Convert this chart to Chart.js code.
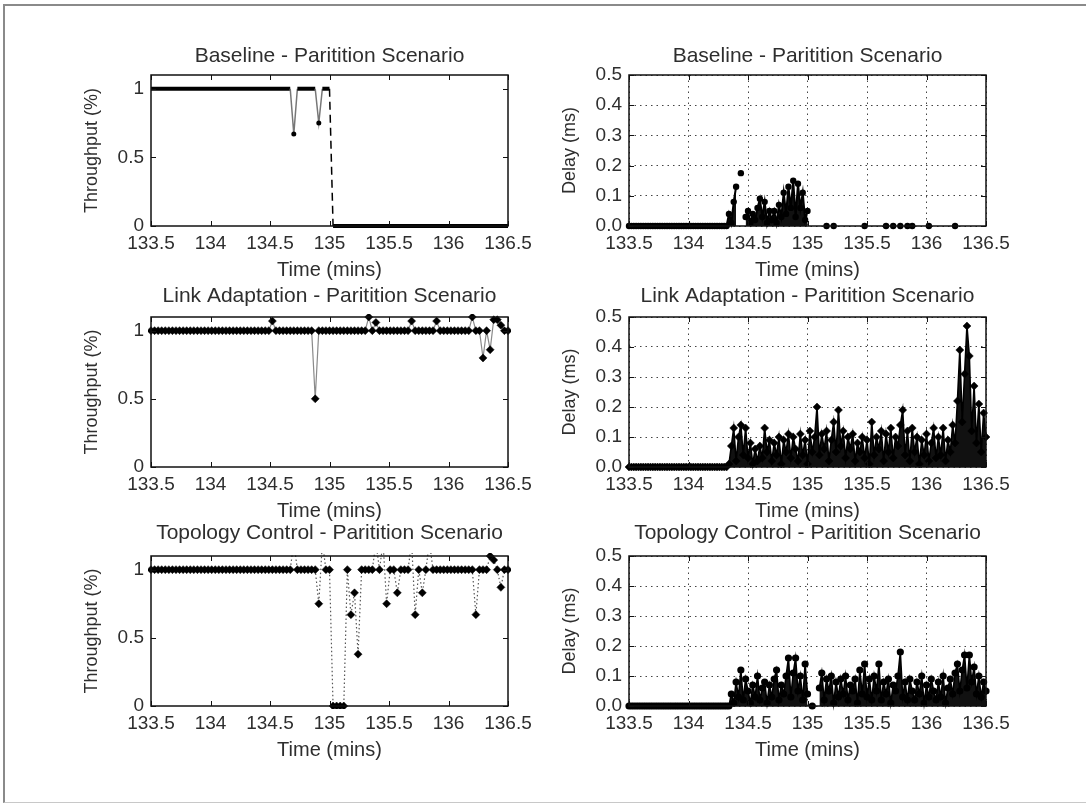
<!DOCTYPE html>
<html>
<head>
<meta charset="utf-8">
<script src="https://cdn.jsdelivr.net/npm/chart.js@4.4.1/dist/chart.umd.min.js"></script>
<style>
  body { margin: 0; background: #fff; width: 1086px; height: 804px; overflow: hidden; position: relative; }
  #frame { position: absolute; left: 3px; top: 4px; width: 1095px; height: 796px;
           border-top: 2px solid #8a8a8a; border-left: 2px solid #8a8a8a; border-bottom: 1px solid #c8c8c8; }
  .panel { position: absolute; width: 497px; }
</style>
</head>
<body>
<div id="frame"></div>
<div class="panel" style="left:41px;top:44px;height:238px"><canvas id="tputBase"></canvas></div>
<div class="panel" style="left:519px;top:44px;height:238px"><canvas id="delayBase"></canvas></div>
<div class="panel" style="left:41px;top:284px;height:239px"><canvas id="tputLinkC"></canvas></div>
<div class="panel" style="left:519px;top:284px;height:239px"><canvas id="delayLinkC"></canvas></div>
<div class="panel" style="left:41px;top:521px;height:241px"><canvas id="tputTopoC"></canvas></div>
<div class="panel" style="left:519px;top:521px;height:241px"><canvas id="delayTopoC"></canvas></div>
<script>
// x axis ticks shared by all six panels
const timeTicks = [133.5, 134, 134.5, 135, 135.5, 136, 136.5];
const timeTickLabels = ['133.5', '134', '134.5', '135', '135.5', '136', '136.5'];
const tputTicks = [0, 0.5, 1];
const tputTickLabels = ['0', '0.5', '1'];
const delayTicks = [0, 0.1, 0.2, 0.3, 0.4, 0.5];
const delayTickLabels = ['0.0', '0.1', '0.2', '0.3', '0.4', '0.5'];

const titles = ['Baseline - Paritition Scenario', 'Link Adaptation - Paritition Scenario', 'Topology Control - Paritition Scenario'];

// throughput samples (mins)
const tputTime = [
  133.50,133.53,133.56,133.59,133.62,133.65,133.68,133.71,133.74,133.77,
  133.80,133.83,133.86,133.89,133.92,133.95,133.98,134.01,134.04,134.07,
  134.10,134.13,134.16,134.19,134.22,134.25,134.28,134.31,134.34,134.37,
  134.40,134.43,134.46,134.49,134.52,134.55,134.58,134.61,134.64,134.67,
  134.70,134.73,134.76,134.79,134.82,134.85,134.88,134.91,134.94,134.97,
  135.00,135.03,135.06,135.09,135.12,135.15,135.18,135.21,135.24,135.27,
  135.30,135.33,135.36,135.39,135.42,135.45,135.48,135.51,135.54,135.57,
  135.60,135.63,135.66,135.69,135.72,135.75,135.78,135.81,135.84,135.87,
  135.90,135.93,135.96,135.99,136.02,136.05,136.08,136.11,136.14,136.17,
  136.20,136.23,136.26,136.29,136.32,136.35,136.38,136.41,136.44,136.47,
  136.50
];
const tputBaseline = [
  1,1,1,1,1,1,1,1,1,1,
  1,1,1,1,1,1,1,1,1,1,
  1,1,1,1,1,1,1,1,1,1,
  1,1,1,1,1,1,1,1,1,1,
  0.67,1,1,1,1,1,1,0.75,1,1,
  1,0,0,0,0,0,0,0,0,0,
  0,0,0,0,0,0,0,0,0,0,
  0,0,0,0,0,0,0,0,0,0,
  0,0,0,0,0,0,0,0,0,0,
  0,0,0,0,0,0,0,0,0,0,
  0
];
const tputLink = [
  1,1,1,1,1,1,1,1,1,1,
  1,1,1,1,1,1,1,1,1,1,
  1,1,1,1,1,1,1,1,1,1,
  1,1,1,1,1.07,1,1,1,1,1,
  1,1,1,1,1,1,0.5,1,1,1,
  1,1,1,1,1,1,1,1,1,1,
  1,1.1,1,1.06,1,1,1,1,1,1,
  1,1,1,1.07,1,1,1,1,1,1,
  1.07,1,1,1,1,1,1,1,1,1,
  1.1,1,1,0.8,1,0.86,1.08,1.08,1.04,1,
  1
];
const tputTopo = [
  1,1,1,1,1,1,1,1,1,1,
  1,1,1,1,1,1,1,1,1,1,
  1,1,1,1,1,1,1,1,1,1,
  1,1,1,1,1,1,1,1,1,1,
  1.2,1,1,1,1,1,1,0.75,1.2,1,
  1,0,0,0,0,1,0.67,0.83,0.38,1,
  1,1,1,1.2,1,1.2,0.75,1,1,0.83,
  1,1,1,1.2,0.67,1,0.83,1,1.2,1,
  1,1,1,1,1,1,1,1,1,1,
  1,0.67,1,1,1,1.1,1.07,1,0.87,1,
  1
];

// delay samples (mins); null = no packet delivered
const delayTime = [
  133.50,133.52,133.54,133.56,133.58,133.60,133.62,133.64,133.66,133.68,
  133.70,133.72,133.74,133.76,133.78,133.80,133.82,133.84,133.86,133.88,
  133.90,133.92,133.94,133.96,133.98,134.00,134.02,134.04,134.06,134.08,
  134.10,134.12,134.14,134.16,134.18,134.20,134.22,134.24,134.26,134.28,
  134.30,134.32,134.34,134.36,134.38,134.40,134.42,134.44,134.46,134.48,
  134.50,134.52,134.54,134.56,134.58,134.60,134.62,134.64,134.66,134.68,
  134.70,134.72,134.74,134.76,134.78,134.80,134.82,134.84,134.86,134.88,
  134.90,134.92,134.94,134.96,134.98,135.00,135.02,135.04,135.06,135.08,
  135.10,135.12,135.14,135.16,135.18,135.20,135.22,135.24,135.26,135.28,
  135.30,135.32,135.34,135.36,135.38,135.40,135.42,135.44,135.46,135.48,
  135.50,135.52,135.54,135.56,135.58,135.60,135.62,135.64,135.66,135.68,
  135.70,135.72,135.74,135.76,135.78,135.80,135.82,135.84,135.86,135.88,
  135.90,135.92,135.94,135.96,135.98,136.00,136.02,136.04,136.06,136.08,
  136.10,136.12,136.14,136.16,136.18,136.20,136.22,136.24,136.26,136.28,
  136.30,136.32,136.34,136.36,136.38,136.40,136.42,136.44,136.46,136.48,
  136.50
];
const delayBaseline = [
  0,0,0,0,0,0,0,0,0,0,
  0,0,0,0,0,0,0,0,0,0,
  0,0,0,0,0,0,0,0,0,0,
  0,0,0,0,0,0,0,0,0,0,
  0,0,0.04,0.01,0.08,0.13,null,0.175,null,0.03,
  0.05,0.01,0.04,0.02,0.06,0.09,0.03,0.08,0.01,0.05,
  0.02,0.05,0.01,0.07,0.03,0.11,0.04,0.13,0.06,0.15,
  0.03,0.14,0.06,0.11,0.02,0.05,null,null,null,null,
  null,null,null,0,null,null,0,null,null,null,
  null,null,null,null,null,null,null,null,null,0,
  null,null,null,null,null,null,null,null,0,null,
  null,0,null,null,0,null,null,0,null,0,
  null,null,null,null,null,null,0,null,null,null,
  null,null,null,null,null,null,null,0,null,null,
  null,null,null,null,null,null,null,null,null,null,
  null
];
const delayLink = [
  0,0,0,0,0,0,0,0,0,0,
  0,0,0,0,0,0,0,0,0,0,
  0,0,0,0,0,0,0,0,0,0,
  0,0,0,0,0,0,0,0,0,0,
  0,0,0.01,0.07,0.13,0.02,0.10,0.14,0.04,0.13,
  0.03,0.08,0.01,0.06,0.02,0.07,0.03,0.13,0.05,0.09,
  0.02,0.08,0.04,0.10,0.01,0.09,0.05,0.11,0.03,0.10,
  0.06,0.02,0.11,0.04,0.09,0.01,0.12,0.05,0.10,0.20,
  0.04,0.11,0.06,0.12,0.02,0.09,0.15,0.05,0.19,0.07,
  0.12,0.03,0.10,0.06,0.11,0.02,0.08,0.05,0.10,0.03,
  0.09,0.01,0.15,0.04,0.10,0.06,0.12,0.02,0.11,0.05,
  0.13,0.03,0.10,0.07,0.14,0.19,0.04,0.12,0.02,0.13,
  0.05,0.10,0.01,0.09,0.04,0.11,0.02,0.08,0.13,0.03,
  0.10,0.04,0.13,0.02,0.09,0.05,0.14,0.08,0.22,0.39,
  0.15,0.31,0.47,0.37,0.12,0.27,0.08,0.21,0.05,0.18,
  0.10
];
const delayTopo = [
  0,0,0,0,0,0,0,0,0,0,
  0,0,0,0,0,0,0,0,0,0,
  0,0,0,0,0,0,0,0,0,0,
  0,0,0,0,0,0,0,0,0,0,
  0,0,0,0.04,0.01,0.08,0.03,0.12,0.02,0.09,
  0.05,0.01,0.07,0.03,0.10,0.02,0.06,0.08,0.01,0.07,
  0.03,0.09,0.12,0.02,0.07,0.04,0.10,0.16,0.03,0.11,
  0.16,0.05,0.10,0.02,0.14,0.04,null,0,null,null,
  0.06,0.11,0.02,0.09,0.05,0.10,0.01,0.08,0.03,0.09,
  0.04,0.10,0.02,0.07,0.05,0.09,0.01,0.12,0.04,0.14,
  0.03,0.09,0.02,0.10,0.05,0.14,0.02,0.08,0.04,0.09,
  0.01,0.07,0.05,0.10,0.18,0.03,0.08,0.02,0.09,0.05,
  0.02,0.08,0.04,0.10,0.01,0.07,0.03,0.09,0.05,0.02,
  0.08,0.03,0.10,0.01,0.06,0.09,0.04,0.11,0.14,0.05,
  0.12,0.17,0.06,0.17,0.08,0.13,0.04,0.10,0.03,0.08,
  0.05
];

const FONT = '"Liberation Sans", Arial, Helvetica, sans-serif';
const INK = '#2e2e2e';

function toPoints(times, values) {
  return times.map((t, i) => ({ x: t, y: values[i] }));
}

// MATLAB style box with inward tick marks on all four sides
const boxTicks = {
  id: 'boxTicks',
  afterDatasetsDraw(chart) {
    const { ctx, chartArea: a, scales: { x, y } } = chart;
    ctx.save();
    ctx.strokeStyle = '#111';
    ctx.lineWidth = 1;
    ctx.beginPath();
    x.ticks.forEach(t => {
      const px = Math.round(x.getPixelForValue(t.value)) + 0.5;
      ctx.moveTo(px, a.bottom); ctx.lineTo(px, a.bottom - 5);
      ctx.moveTo(px, a.top); ctx.lineTo(px, a.top + 5);
    });
    y.ticks.forEach(t => {
      const py = Math.round(y.getPixelForValue(t.value)) + 0.5;
      ctx.moveTo(a.left, py); ctx.lineTo(a.left + 5, py);
      ctx.moveTo(a.right, py); ctx.lineTo(a.right - 5, py);
    });
    ctx.stroke();
    ctx.lineWidth = 1.5;
    ctx.strokeRect(a.left, a.top, a.right - a.left, a.bottom - a.top);
    ctx.restore();
  }
};

function panel(canvasId, title, titlePad, dataset, isDelay) {
  const yTicks = isDelay ? delayTicks : tputTicks;
  const yLabels = isDelay ? delayTickLabels : tputTickLabels;
  new Chart(document.getElementById(canvasId), {
    type: 'line',
    data: { datasets: [dataset] },
    options: {
      responsive: true,
      maintainAspectRatio: false,
      animation: false,
      events: [],
      layout: { padding: { left: 0, right: 30, top: 0, bottom: 0 } },
      plugins: {
        legend: { display: false },
        tooltip: { enabled: false },
        title: {
          display: true, text: title, color: INK, fullSize: false,
          font: { family: FONT, size: 21, weight: 'normal' },
          padding: { top: 0, bottom: titlePad }
        }
      },
      scales: {
        x: {
          type: 'linear', min: 133.5, max: 136.5,
          afterBuildTicks: s => { s.ticks = timeTicks.map(v => ({ value: v })); },
          afterFit: s => { s.height = 56; s.paddingLeft = 0; s.paddingRight = 0; },
          ticks: { callback: (v, i) => timeTickLabels[i], color: INK, padding: 6, maxRotation: 0, autoSkip: false,
                   font: { family: FONT, size: 19 } },
          grid: isDelay
            ? { display: true, drawTicks: false, color: '#444', lineWidth: 1 }
            : { display: false, drawTicks: false },
          border: { display: false, dash: [1.5, 4] },
          title: { display: true, text: 'Time (mins)', color: INK, padding: 0,
                   font: { family: FONT, size: 20 } }
        },
        y: {
          type: 'linear', min: 0, max: isDelay ? 0.5 : 1.1,
          afterBuildTicks: s => { s.ticks = yTicks.map(v => ({ value: v })); },
          afterFit: s => { s.width = 110; s.paddingTop = 0; s.paddingBottom = 0; },
          ticks: { callback: (v, i) => yLabels[i], color: INK, padding: 7, autoSkip: false,
                   font: { family: FONT, size: 19 } },
          grid: isDelay
            ? { display: true, drawTicks: false, color: '#444', lineWidth: 1 }
            : { display: false, drawTicks: false },
          border: { display: false, dash: [1.5, 4] },
          title: { display: true, text: isDelay ? 'Delay (ms)' : 'Throughput (%)', color: INK,
                   padding: { top: 40, bottom: 0 }, font: { family: FONT, size: 18 } }
        }
      }
    },
    plugins: [boxTicks]
  });
}

// Baseline throughput: thick flat runs, thin dips, dashed drop at the partition
panel('tputBase', titles[0], 5.8, {
  data: toPoints(tputTime, tputBaseline),
  borderColor: '#000', borderWidth: 1.5, clip: 3,
  segment: {
    borderWidth: c => c.p0.parsed.y === c.p1.parsed.y ? 4 : 1.5,
    borderColor: c => (c.p0.parsed.y === c.p1.parsed.y || (c.p0.parsed.y === 1 && c.p1.parsed.y === 0)) ? '#000' : '#777',
    borderDash: c => (c.p0.parsed.y === 1 && c.p1.parsed.y === 0) ? [8, 5] : undefined
  },
  pointRadius: c => (c.raw && c.raw.y > 0 && c.raw.y < 1) ? 2.5 : 0,
  pointBackgroundColor: '#000', pointBorderWidth: 0
}, false);

// delay clouds: dense packets drawn as a filled black band under the samples
panel('delayBase', titles[0], 5.8, {
  data: toPoints(delayTime, delayBaseline),
  borderColor: '#000', borderWidth: 2, spanGaps: false, clip: 6,
  fill: 'origin', backgroundColor: '#111',
  pointStyle: 'circle', pointRadius: 3.2, pointBackgroundColor: '#000', pointBorderWidth: 0
}, true);

panel('tputLinkC', titles[1], 7.8, {
  data: toPoints(tputTime, tputLink),
  borderColor: '#8a8a8a', borderWidth: 1.2, clip: 3,
  pointStyle: 'rectRot', pointRadius: 4, pointBackgroundColor: '#000', pointBorderColor: '#000', pointBorderWidth: 0.5
}, false);

panel('delayLinkC', titles[1], 7.8, {
  data: toPoints(delayTime, delayLink),
  borderColor: '#000', borderWidth: 1.6, clip: 6,
  fill: 'origin', backgroundColor: '#111',
  pointStyle: 'rectRot', pointRadius: 4, pointBackgroundColor: '#000', pointBorderColor: '#000', pointBorderWidth: 0.5
}, true);

panel('tputTopoC', titles[2], 9.8, {
  data: toPoints(tputTime, tputTopo),
  borderColor: '#555', borderWidth: 1.2, borderDash: [1.5, 2.5], clip: 3,
  pointStyle: 'rectRot', pointRadius: 4, pointBackgroundColor: '#000', pointBorderColor: '#000', pointBorderWidth: 0.5
}, false);

panel('delayTopoC', titles[2], 9.8, {
  data: toPoints(delayTime, delayTopo),
  borderColor: '#000', borderWidth: 1.6, spanGaps: false, clip: 6,
  fill: 'origin', backgroundColor: '#111',
  pointStyle: 'circle', pointRadius: 3.6, pointBackgroundColor: '#000', pointBorderColor: '#000', pointBorderWidth: 0
}, true);
</script>
</body>
</html>
